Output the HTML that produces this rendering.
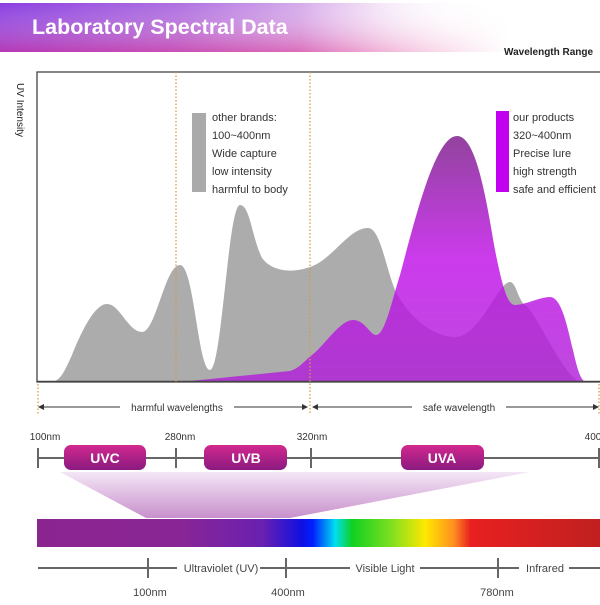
<!DOCTYPE html>
<html><head><style>
body{margin:0;background:#fff;width:600px;height:600px;overflow:hidden;font-family:"Liberation Sans",sans-serif;}
</style></head><body>
<svg width="600" height="600" viewBox="0 0 600 600" xmlns="http://www.w3.org/2000/svg" font-family="Liberation Sans, sans-serif">
<defs>
<linearGradient id="ban" x1="0" y1="0" x2="1" y2="0">
<stop offset="0" stop-color="#8a3fe0"/><stop offset="0.3" stop-color="#b070e0"/><stop offset="0.6" stop-color="#e8c8f0"/><stop offset="0.85" stop-color="#fff" stop-opacity="0"/>
</linearGradient>
<linearGradient id="ban2" x1="0" y1="0" x2="0" y2="1">
<stop offset="0" stop-color="#fff" stop-opacity="0"/><stop offset="1" stop-color="#e0308a" stop-opacity="0.5"/>
</linearGradient>
<linearGradient id="ban3" x1="0" y1="0" x2="1" y2="0">
<stop offset="0" stop-color="#fff" stop-opacity="0"/><stop offset="0.5" stop-color="#fff" stop-opacity="0"/><stop offset="0.85" stop-color="#fff" stop-opacity="1"/>
</linearGradient>
<linearGradient id="pur" x1="0" y1="136" x2="0" y2="381" gradientUnits="userSpaceOnUse">
<stop offset="0" stop-color="#7a1a88"/><stop offset="0.5" stop-color="#c010e8"/><stop offset="1" stop-color="#b020d8"/>
</linearGradient>
<linearGradient id="spec" x1="0" y1="0" x2="1" y2="0">
<stop offset="0" stop-color="#8a2590"/><stop offset="0.25" stop-color="#8a2595"/><stop offset="0.4" stop-color="#6a20b0"/><stop offset="0.47" stop-color="#1010e0"/><stop offset="0.49" stop-color="#0020ff"/><stop offset="0.53" stop-color="#00e0f0"/><stop offset="0.56" stop-color="#10d020"/><stop offset="0.63" stop-color="#80e020"/><stop offset="0.69" stop-color="#ffe800"/><stop offset="0.74" stop-color="#ff9020"/><stop offset="0.77" stop-color="#e82020"/><stop offset="1" stop-color="#c02020"/>
</linearGradient>
<linearGradient id="fun" x1="0" y1="0" x2="0" y2="1">
<stop offset="0" stop-color="#f4e6f6"/><stop offset="1" stop-color="#c890cc"/>
</linearGradient>
<linearGradient id="pill" x1="0" y1="0" x2="0" y2="1">
<stop offset="0" stop-color="#d2288e"/><stop offset="1" stop-color="#8a1a80"/>
</linearGradient>
</defs>
<rect x="0" y="3" width="600" height="49" fill="url(#ban)"/>
<rect x="0" y="3" width="600" height="49" fill="url(#ban2)"/>
<rect x="0" y="3" width="600" height="49" fill="url(#ban3)"/>
<text x="32" y="34" font-size="21.5" font-weight="bold" fill="#fff">Laboratory Spectral Data</text>
<text x="504" y="55" font-size="10" font-weight="bold" fill="#222">Wavelength Range</text>
<text transform="translate(17,110) rotate(90)" font-size="10" fill="#222" text-anchor="middle">UV Intensity</text>
<rect x="37" y="72" width="570" height="310" fill="none" stroke="#444" stroke-width="1.3"/>
<path d="M55,381 C62,378 66,368 72,355 C82,330 95,304 107,304 C120,304 128,332 142,332 C156,332 165,265 180,265 C194,265 198,370 210,370 C222,370 228,205 240,205 C250,205 252,238 262,258 C275,275 300,272 315,265 C335,255 350,228 368,228 C380,228 385,265 395,290 C410,320 435,337 455,337 C480,337 498,282 510,282 C516,282 518,300 525,305 C535,310 560,370 578,381 Z" fill="#acacac"/>
<path d="M190,381 L290,371 C300,368 305,360 312,355 C325,345 340,320 353,320 C365,320 370,335 376,335 C385,335 392,300 400,275 C415,220 435,136 457,136 C475,136 485,190 495,250 C503,290 508,305 515,305 C525,305 540,297 550,297 C562,297 568,330 573,350 C577,368 580,378 584,381 Z" fill="url(#pur)" opacity="0.82"/>
<line x1="37" y1="381.5" x2="600" y2="381.5" stroke="#444" stroke-width="1.5"/>
<g stroke="#d0a040" stroke-width="1.3" stroke-dasharray="1.5,2">
<line x1="176" y1="72" x2="176" y2="382"/><line x1="310" y1="72" x2="310" y2="415"/>
<line x1="38" y1="384" x2="38" y2="415"/><line x1="599" y1="384" x2="599" y2="415"/>
</g>
<rect x="192" y="113" width="14" height="79" fill="#aaa"/>
<g font-size="11" fill="#333">
<text x="212" y="121">other brands:</text><text x="212" y="139">100~400nm</text><text x="212" y="157">Wide capture</text><text x="212" y="175">low intensity</text><text x="212" y="193">harmful to body</text>
<text x="513" y="121">our products</text><text x="513" y="139">320~400nm</text><text x="513" y="157">Precise lure</text><text x="513" y="175">high strength</text><text x="513" y="193">safe and efficient</text>
</g>
<rect x="496" y="111" width="13" height="81" fill="#c000ee"/>
<g stroke="#333" stroke-width="1">
<line x1="40" y1="407" x2="120" y2="407"/><line x1="234" y1="407" x2="306" y2="407"/>
<line x1="314" y1="407" x2="412" y2="407"/><line x1="506" y1="407" x2="597" y2="407"/>
</g>
<g fill="#333">
<path d="M38,407 l6,-3 v6z"/><path d="M308,407 l-6,-3 v6z"/><path d="M312,407 l6,-3 v6z"/><path d="M599,407 l-6,-3 v6z"/>
</g>
<g font-size="10" fill="#333" text-anchor="middle">
<text x="177" y="411">harmful wavelengths</text><text x="459" y="411">safe wavelength</text>
<text x="45" y="440">100nm</text><text x="180" y="440">280nm</text><text x="312" y="440">320nm</text><text x="593" y="440">400</text>
</g>
<line x1="37" y1="458" x2="600" y2="458" stroke="#666" stroke-width="2"/>
<g stroke="#666" stroke-width="2">
<line x1="38" y1="448" x2="38" y2="468"/><line x1="176" y1="448" x2="176" y2="468"/><line x1="311" y1="448" x2="311" y2="468"/><line x1="599" y1="448" x2="599" y2="468"/>
</g>
<polygon points="60,472 530,472 290,518 146,518" fill="url(#fun)"/>
<g font-size="14" font-weight="bold" fill="#fff" text-anchor="middle">
<rect x="64" y="445" width="82" height="25" rx="7" fill="url(#pill)"/><text x="105" y="463">UVC</text>
<rect x="204" y="445" width="83" height="25" rx="7" fill="url(#pill)"/><text x="246" y="463">UVB</text>
<rect x="401" y="445" width="83" height="25" rx="7" fill="url(#pill)"/><text x="442" y="463">UVA</text>
</g>
<rect x="37" y="519" width="563" height="28" fill="url(#spec)"/>
<g stroke="#666" stroke-width="2">
<line x1="38" y1="568" x2="177" y2="568"/><line x1="260" y1="568" x2="350" y2="568"/><line x1="420" y1="568" x2="519" y2="568"/><line x1="569" y1="568" x2="600" y2="568"/>
<line x1="148" y1="558" x2="148" y2="578"/><line x1="286" y1="558" x2="286" y2="578"/><line x1="498" y1="558" x2="498" y2="578"/>
</g>
<g font-size="11" fill="#444" text-anchor="middle">
<text x="221" y="572">Ultraviolet (UV)</text><text x="385" y="572">Visible Light</text><text x="545" y="572">Infrared</text>
<text x="150" y="596">100nm</text><text x="288" y="596">400nm</text><text x="497" y="596">780nm</text>
</g>
</svg>
</body></html>
